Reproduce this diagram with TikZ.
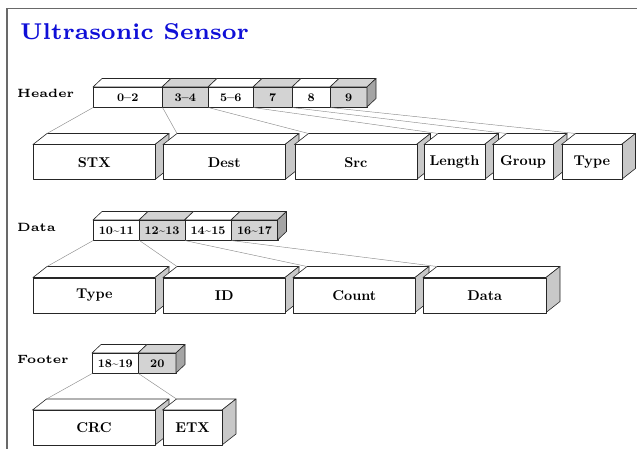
\documentclass[tikz,border=0pt]{standalone}
\usepackage{graphicx}
\definecolor{cellgray}{RGB}{211,211,211}
\definecolor{sidegray}{RGB}{200,200,200}
\definecolor{darkside}{RGB}{165,165,165}
\definecolor{titleblue}{RGB}{15,15,215}
\definecolor{framegray}{RGB}{105,105,105}
\definecolor{conngray}{RGB}{140,140,140}
\newcommand\boxtxt[1]{\scalebox{1.42}{\fontsize{10}{12}\selectfont\bfseries #1}}
\newcommand\celltxt[1]{\scalebox{1.45}{\fontsize{8}{9.6}\selectfont\bfseries #1}}
\newcommand\rowtxt[1]{\scalebox{2.4}{\fontsize{5}{6}\selectfont\bfseries #1}}
\newcommand\tld{\textasciitilde}
\tikzset{
  face/.style={draw=black!85, line width=0.6pt, line join=round},
  conn/.style={draw=conngray, line width=0.45pt},
  rowlabel/.style={anchor=base west, inner sep=0pt},
}
% big 3D box: name, x1, x2, ytop, text
\newcommand\bigbox[5]{%
  \path[face, fill=white] (#2,#4) -- (#3,#4) -- (#3+14,#4-11) -- (#2+14,#4-11) -- cycle;
  \path[face, fill=sidegray] (#3,#4) -- (#3+14,#4-11) -- (#3+14,#4+35-11) -- (#3,#4+35) -- cycle;
  \node[face, fill=white, anchor=north west, minimum width={(#3-#2)*1pt}, minimum height=35pt, inner sep=0pt] (#1) at (#2,#4) {\boxtxt{#5}};
  \coordinate (#1-bl) at (#2+14,#4-11);
}
% small cell: name, x1, x2, ytop, fill, text
\newcommand\cell[6]{%
  \path[face, fill=#5] (#2,#4) -- (#3,#4) -- (#3+9,#4-8.5) -- (#2+9,#4-8.5) -- cycle;
  \node[face, fill=#5, anchor=north west, minimum width={(#3-#2)*1pt}, minimum height=20pt, inner sep=0pt] (#1) at (#2,#4) {\celltxt{#6}};
}
% side of the last cell: x2, ytop
\newcommand\cellside[2]{%
  \path[face, fill=darkside] (#1,#2) -- (#1+9,#2-8.5) -- (#1+9,#2+20-8.5) -- (#1,#2+20) -- cycle;
}
\begin{document}
\begin{tikzpicture}[x=1pt, y=-1pt]
\useasboundingbox (0,0) rectangle (637,449);
\draw[framegray, line width=1.5pt] (7,449) -- (7,8.5) -- (637,8.5);

\node[rowlabel, text=titleblue] (title) at (20,40) {\scalebox{3.27}{\fontsize{7}{8}\selectfont\bfseries Ultrasonic Sensor}};

% ---------- Header ----------
\node[rowlabel] (lhead) at (17,98) {\rowtxt{Header}};
\cell{h02}{93}{162}{87}{white}{0--2}
\cell{h34}{162}{208}{87}{cellgray}{3--4}
\cell{h56}{208}{253}{87}{white}{5--6}
\cell{h7}{253}{292}{87}{cellgray}{7}
\cell{h8}{292}{330}{87}{white}{8}
\cell{h9}{330}{367}{87}{cellgray}{9}
\cellside{367}{87}

\bigbox{stx}{33}{155}{144.5}{STX}
\bigbox{dest}{163}{285}{144.5}{Dest}
\bigbox{src}{294.5}{416.5}{144.5}{Src}
\bigbox{len}{424}{484.5}{144.5}{Length}
\bigbox{grp}{492.5}{553}{144.5}{Group}
\bigbox{htype}{561.5}{621.5}{144.5}{Type}

\draw[conn] (h02.south west) -- (stx-bl);
\draw[conn] (h02.south east) -- (dest-bl);
\draw[conn] (h34.south east) -- (src-bl);
\draw[conn] (h56.south east) -- (len-bl);
\draw[conn] (h7.south east) -- (grp-bl);
\draw[conn] (h8.south east) -- (htype-bl);

% ---------- Data ----------
\node[rowlabel] (ldata) at (17,231) {\rowtxt{Data}};
\cell{d1011}{93}{139}{220}{white}{10\tld11}
\cell{d1213}{139}{184.5}{220}{cellgray}{12\tld13}
\cell{d1415}{184.5}{231}{220}{white}{14\tld15}
\cell{d1617}{231}{277.5}{220}{cellgray}{16\tld17}
\cellside{277.5}{220}

\bigbox{dtype}{33}{155}{277.5}{Type}
\bigbox{did}{163}{285}{277.5}{ID}
\bigbox{dcount}{293}{415}{277.5}{Count}
\bigbox{ddata}{423}{546}{277.5}{Data}

\draw[conn] (d1011.south west) -- (dtype-bl);
\draw[conn] (d1011.south east) -- (did-bl);
\draw[conn] (d1213.south east) -- (dcount-bl);
\draw[conn] (d1415.south east) -- (ddata-bl);

% ---------- Footer ----------
\node[rowlabel] (lfoot) at (17,363) {\rowtxt{Footer}};
\cell{f1819}{92}{138}{353}{white}{18\tld19}
\cell{f20}{138}{176}{353}{cellgray}{20}
\cellside{176}{353}

\bigbox{crc}{32.5}{155}{410}{CRC}
\bigbox{etx}{162.5}{222}{410}{ETX}

\draw[conn] (f1819.south west) -- (crc-bl);
\draw[conn] (f1819.south east) -- (etx-bl);
\end{tikzpicture}
\end{document}
